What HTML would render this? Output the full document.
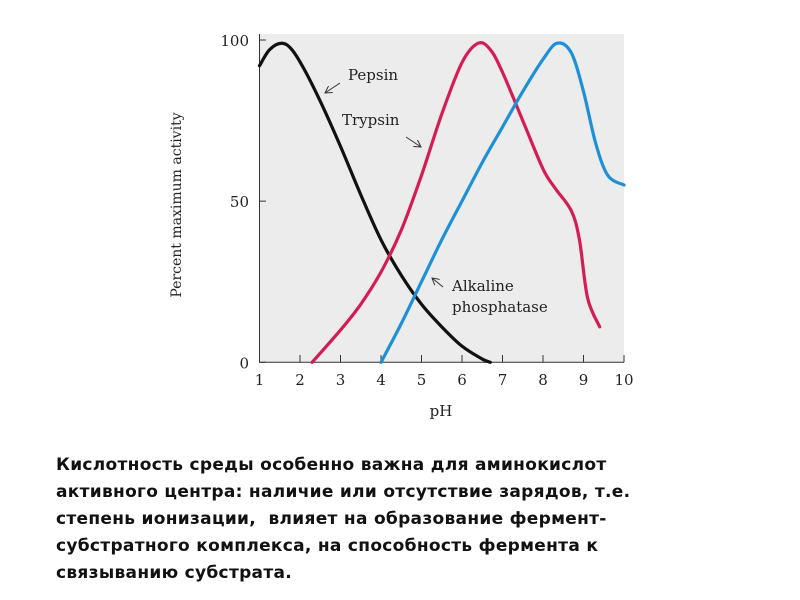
<!DOCTYPE html>
<html><head><meta charset="utf-8"><style>
body{margin:0;width:800px;height:600px;background:#fff;overflow:hidden;position:relative}
#cap{position:absolute;left:56px;top:452px;font:bold 17px "DejaVu Sans","Liberation Sans",sans-serif;letter-spacing:0.3px;line-height:27px;color:#111;width:740px;white-space:nowrap}
</style></head><body>
<svg id="chart" width="800" height="440" style="position:absolute;left:0;top:0" font-family="DejaVu Serif, Liberation Serif, serif"></svg>
<div id="cap">Кислотность среды особенно важна для аминокислот<br>активного центра: наличие или отсутствие зарядов, т.е.<br>степень ионизации,&nbsp; влияет на образование фермент-<br>субстратного комплекса, на способность фермента к<br>связыванию субстрата.</div>
<script>
const xTicks=[1,2,3,4,5,6,7,8,9,10];
const yTicks=[0,50,100];
const pepsinPH=[1,1.25,1.55,1.8,2.1,2.5,3,3.5,4,4.5,5,5.5,6,6.5,6.7];
const pepsinVal=[92,97,99,97,91,81,67,52,38,27,18,11,5,1,0];
const trypsinPH=[2.3,3,3.5,4,4.5,5,5.5,6,6.4,6.7,7,7.5,8,8.3,8.7,8.9,9.1,9.4];
const trypsinVal=[0,10,18,28,41,58,77,93,99,97,90,75,60,54,47,38,20,11];
const alkPH=[4,4.5,5,5.5,6,6.5,7,7.5,8,8.35,8.7,9,9.3,9.6,10];
const alkVal=[0,12,25,38,50,62,73,84,94,99,96,84,68,58,55];
const X=v=>259.5+(v-1)*40.5, Y=v=>362.3-v*3.223;
const svg=document.getElementById('chart');const NS='http://www.w3.org/2000/svg';
function mk(t,a,txt){const e=document.createElementNS(NS,t);for(const k in a)e.setAttribute(k,a[k]);if(txt!=null)e.textContent=txt;svg.appendChild(e);return e;}
const defs=mk('defs',{});
defs.innerHTML='<marker id="ah" markerWidth="8" markerHeight="8" refX="7" refY="4" orient="auto" markerUnits="userSpaceOnUse"><path d="M0,0L7,4L0,8" fill="none" stroke="#333" stroke-width="1"/></marker>';
let bg=mk('rect',{x:259.5,y:34,width:364.5,height:328.3,fill:'#ececec'});


let ax=mk('path',{d:`M259.5,34V362.3H624`,stroke:'#333',fill:'none','stroke-width':1});


xTicks.forEach(t=>{let l=mk('line',{x1:X(t),x2:X(t),y1:362.3,y2:355,stroke:'#333'});


let tx=mk('text',{x:X(t),y:385,'text-anchor':'middle','font-size':15,fill:'#222'},t);

});
yTicks.forEach(t=>{let l=mk('line',{x1:259.5,x2:266,y1:Y(t),y2:Y(t),stroke:'#333'});


let tx=mk('text',{x:249,y:Y(t)+6,'text-anchor':'end','font-size':15,fill:'#222'},t);

});
let xt=mk('text',{x:441,y:416,'text-anchor':'middle','font-size':15,fill:'#222'},'pH');


let yt=mk('text',{x:181,y:205,'text-anchor':'middle','font-size':14,fill:'#222',transform:'rotate(-90 181 205)'},'Percent maximum activity');


function curve(xs,ys){const p=xs.map((x,i)=>[X(x),Y(ys[i])]);let d=`M${p[0][0]},${p[0][1]}`;
for(let i=0;i<p.length-1;i++){const a=p[i-1]||p[i],b=p[i],c=p[i+1],e=p[i+2]||c;
d+=`C${b[0]+(c[0]-a[0])/6},${b[1]+(c[1]-a[1])/6} ${c[0]-(e[0]-b[0])/6},${c[1]-(e[1]-b[1])/6} ${c[0]},${c[1]}`;}return d;}
[[pepsinPH,pepsinVal,'#111','pepsin-line'],[trypsinPH,trypsinVal,'#d41c55','trypsin-line'],[alkPH,alkVal,'#1e90d6','alkaline-phosphatase-line']].forEach(s=>{
let p=mk('path',{d:curve(s[0],s[1]),stroke:s[2],fill:'none','stroke-width':3.2,'stroke-linecap':'round'});

});
[['Pepsin',348,80],['Trypsin',342,125],['Alkaline',452,291],['phosphatase',452,312]].forEach(a=>{
let t=mk('text',{x:a[1],y:a[2],'font-size':15,fill:'#222'},a[0]);

});
[[340,83,325,93],[406,137,421,147],[443,287,432,278]].forEach(a=>{
let l=mk('path',{d:`M${a[0]},${a[1]}L${a[2]},${a[3]}`,stroke:'#333','stroke-width':1,fill:'none','marker-end':'url(#ah)'});

});
</script>
</body></html>
